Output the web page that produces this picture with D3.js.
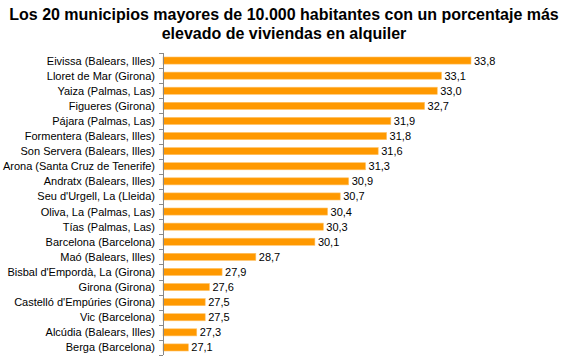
<!DOCTYPE html>
<html>
<head>
<meta charset="utf-8">
<script src="https://cdn.jsdelivr.net/npm/d3@7"></script>
<style>
  body { margin: 0; background: #fff; }
  svg { display: block; font-family: "Liberation Sans", Arial, sans-serif; }
  .title { font-size: 16px; font-weight: bold; fill: #000; }
  .cat-label, .val-label { font-size: 11px; fill: #000; }
</style>
</head>
<body>
<div id="chart"></div>
<script>
// Data
const municipios = [
    "Eivissa (Balears, Illes)", "Lloret de Mar (Girona)", "Yaiza (Palmas, Las)",
    "Figueres (Girona)", "Pájara (Palmas, Las)", "Formentera (Balears, Illes)",
    "Son Servera (Balears, Illes)", "Arona (Santa Cruz de Tenerife)",
    "Andratx (Balears, Illes)", "Seu d'Urgell, La (Lleida)", "Oliva, La (Palmas, Las)",
    "Tías (Palmas, Las)", "Barcelona (Barcelona)", "Maó (Balears, Illes)",
    "Bisbal d'Empordà, La (Girona)", "Girona (Girona)", "Castelló d'Empúries (Girona)",
    "Vic (Barcelona)", "Alcúdia (Balears, Illes)", "Berga (Barcelona)"
];
const porcentajes = [33.8, 33.1, 33.0, 32.7, 31.9, 31.8, 31.6, 31.3, 30.9, 30.7,
    30.4, 30.3, 30.1, 28.7, 27.9, 27.6, 27.5, 27.5, 27.3, 27.1];
const titleLines = [
    "Los 20 municipios mayores de 10.000 habitantes con un porcentaje más",
    "elevado de viviendas en alquiler"
];

const data = municipios.map((m, i) => ({name: m, value: porcentajes[i]}));

const width = 568, height = 361;
const margin = {top: 53, left: 163, bottom: 6};

const svg = d3.select("#chart").append("svg")
    .attr("width", width)
    .attr("height", height);

// Title
svg.selectAll(".title")
    .data(titleLines)
    .enter().append("text")
    .attr("class", "title")
    .attr("x", width / 2)
    .attr("y", (d, i) => 20 + i * 19)
    .attr("text-anchor", "middle")
    .text(d => d);

// Scales
const x = d3.scaleLinear()
    .domain([26.5, 33.8])
    .range([margin.left, 471]);

const y = d3.scaleBand()
    .domain(data.map(d => d.name))
    .range([margin.top, height - margin.bottom])
    .paddingInner(0.53)
    .paddingOuter(0.265);

// Bars
svg.selectAll(".bar")
    .data(data)
    .enter().append("rect")
    .attr("class", "bar")
    .attr("x", margin.left)
    .attr("y", d => y(d.name))
    .attr("width", d => x(d.value) - margin.left)
    .attr("height", y.bandwidth())
    .attr("fill", "#ff9900")
    .attr("stroke", "#ffc266")
    .attr("stroke-width", 0.6);

// Value labels
svg.selectAll(".val-label")
    .data(data)
    .enter().append("text")
    .attr("class", "val-label")
    .attr("x", d => x(d.value) + 3)
    .attr("y", d => y(d.name) + y.bandwidth() / 2)
    .attr("dy", "0.36em")
    .text(d => d3.format(".1f")(d.value).replace(".", ","));

// Category axis (ticks between bands)
const axis = svg.append("g").attr("class", "y-axis");
const step = y.step();
const bounds = d3.range(municipios.length + 1).map(i => margin.top + i * step);

axis.append("line")
    .attr("x1", margin.left + 0.5).attr("x2", margin.left + 0.5)
    .attr("y1", bounds[0]).attr("y2", bounds[bounds.length - 1])
    .attr("stroke", "#888");

axis.selectAll(".tick")
    .data(bounds)
    .enter().append("line")
    .attr("class", "tick")
    .attr("x1", margin.left - 4).attr("x2", margin.left)
    .attr("y1", d => Math.round(d) + 0.5).attr("y2", d => Math.round(d) + 0.5)
    .attr("stroke", "#888");

axis.selectAll(".cat-label")
    .data(data)
    .enter().append("text")
    .attr("class", "cat-label")
    .attr("x", margin.left - 8)
    .attr("y", d => y(d.name) + y.bandwidth() / 2)
    .attr("dy", "0.36em")
    .attr("text-anchor", "end")
    .text(d => d.name);
</script>
</body>
</html>
